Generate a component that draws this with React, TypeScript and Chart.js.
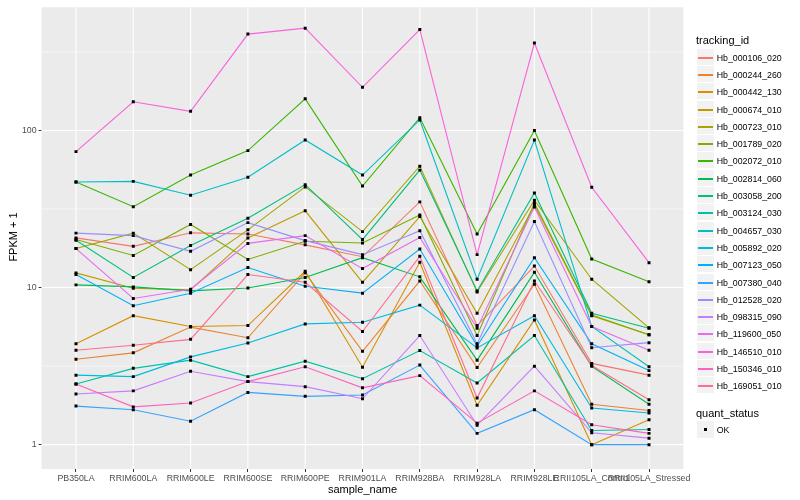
import React, { useEffect, useRef } from "react";
import { Chart, registerables } from "chart.js";

Chart.register(...registerables);

const categories = [
  "PB350LA", "RRIM600LA", "RRIM600LE", "RRIM600SE", "RRIM600PE", "RRIM901LA",
  "RRIM928BA", "RRIM928LA", "RRIM928LE", "RRII105LA_Control", "RRII105LA_Stressed",
];

const trackingIds = [
  "Hb_000106_020", "Hb_000244_260", "Hb_000442_130", "Hb_000674_010", "Hb_000723_010",
  "Hb_001789_020", "Hb_002072_010", "Hb_002814_060", "Hb_003058_200", "Hb_003124_030",
  "Hb_004657_030", "Hb_005892_020", "Hb_007123_050", "Hb_007380_040", "Hb_012528_020",
  "Hb_098315_090", "Hb_119600_050", "Hb_146510_010", "Hb_150346_010", "Hb_169051_010",
];

const seriesColors = [
  "#F8766D", "#EA8331", "#D89000", "#C09B00", "#A3A500", "#7CAE00", "#39B600", "#00BB4E",
  "#00BF7D", "#00C1A3", "#00BFC4", "#00BAE0", "#00B0F6", "#35A2FF", "#9590FF", "#C77CFF",
  "#E76BF3", "#FA62DB", "#FF62BC", "#FF6C90",
];

const hb000106 = [20.7, 18.3, 22.3, 21.9, 18.7, 15.7, 35.1, 5.73, 13.7, 3.29, 2.77];
const hb000244 = [3.5, 3.84, 5.6, 4.79, 12.4, 3.93, 11.0, 3.1, 10.5, 1.81, 1.65];
const hb000442 = [4.39, 6.62, 5.65, 5.73, 12.7, 3.11, 14.5, 1.78, 6.22, 1.0, 1.44];
const hb000674 = [12.4, 9.9, 9.66, 20.7, 30.8, 10.8, 28.3, 6.86, 33.5, 6.62, 5.0];
const hb000723 = [17.7, 22.2, 13.0, 23.3, 43.7, 22.7, 59.2, 9.38, 36.0, 11.3, 5.54];
const hb001789 = [20.2, 16.0, 25.2, 15.1, 19.7, 19.2, 29.0, 4.95, 34.5, 6.69, 5.0];
const hb002072 = [47.0, 32.7, 52.0, 74.4, 158.9, 44.3, 120.6, 21.9, 99.9, 15.2, 10.9];
const hb002814 = [10.4, 10.1, 9.52, 9.94, 11.6, 15.5, 11.7, 3.45, 12.5, 3.15, 1.81];
const hb003058 = [20.0, 11.6, 18.5, 27.6, 45.2, 20.2, 55.9, 9.52, 40.0, 6.86, 5.51];
const hb003124 = [2.43, 3.06, 3.45, 2.71, 3.4, 2.63, 3.97, 2.47, 4.95, 1.23, 1.25];
const hb004657 = [47.0, 47.4, 38.7, 50.3, 86.9, 52.0, 116.6, 11.3, 86.9, 5.65, 3.13];
const hb005892 = [2.77, 2.71, 3.62, 4.44, 5.87, 6.02, 7.73, 4.13, 6.62, 1.71, 1.59];
const hb007123 = [12.1, 7.66, 9.21, 13.4, 10.2, 9.21, 17.6, 4.25, 15.5, 4.39, 2.96];
const hb007380 = [1.76, 1.67, 1.41, 2.15, 2.03, 2.07, 3.21, 1.18, 1.67, 1.0, 1.0];
const hb012528 = [22.2, 21.4, 17.0, 25.9, 19.9, 16.2, 23.0, 4.39, 26.3, 4.14, 4.46];
const hb098315 = [2.1, 2.2, 2.93, 2.52, 2.34, 1.96, 4.95, 1.33, 3.16, 1.19, 1.1];
const hb119600 = [17.7, 8.52, 9.76, 19.1, 21.4, 13.2, 20.8, 5.51, 32.5, 5.65, 3.99];
const hb146510 = [73.3, 152.1, 132.3, 410.4, 447.7, 188.2, 438.7, 16.2, 360.0, 43.5, 14.4];
const hb150346 = [2.43, 1.74, 1.84, 2.52, 3.13, 2.3, 2.75, 1.37, 2.2, 1.34, 1.18];
const hb169051 = [3.99, 4.29, 4.68, 12.1, 10.8, 5.25, 15.8, 1.98, 11.0, 3.19, 1.93];

const seriesValues = [
  hb000106, hb000244, hb000442, hb000674, hb000723, hb001789, hb002072, hb002814,
  hb003058, hb003124, hb004657, hb005892, hb007123, hb007380, hb012528, hb098315,
  hb119600, hb146510, hb150346, hb169051,
];

const yBreaks = [1, 10, 100];
const yMinorBreaks = [3.1623, 31.623, 316.23];
const yLimits = [0.727, 608];
const xLimits = [-0.6, 10.6];

const FONT = "'Liberation Sans', Arial, Helvetica, sans-serif";

const panelPlugin = {
  id: "ggpanel",
  beforeDatasetsDraw(chart: any) {
    const { ctx, chartArea: a, scales } = chart;
    ctx.save();
    ctx.fillStyle = "#EBEBEB";
    ctx.fillRect(a.left, a.top, a.right - a.left, a.bottom - a.top);
    ctx.strokeStyle = "#FFFFFF";
    ctx.lineWidth = 0.55;
    yMinorBreaks.forEach((v) => {
      const y = scales.y.getPixelForValue(v);
      ctx.beginPath();
      ctx.moveTo(a.left, y);
      ctx.lineTo(a.right, y);
      ctx.stroke();
    });
    ctx.lineWidth = 1.1;
    yBreaks.forEach((v) => {
      const y = scales.y.getPixelForValue(v);
      ctx.beginPath();
      ctx.moveTo(a.left, y);
      ctx.lineTo(a.right, y);
      ctx.stroke();
    });
    categories.forEach((_, i) => {
      const x = scales.x.getPixelForValue(i);
      ctx.beginPath();
      ctx.moveTo(x, a.top);
      ctx.lineTo(x, a.bottom);
      ctx.stroke();
    });
    ctx.restore();
  },
};

function ChartView() {
  const ref = useRef<HTMLCanvasElement | null>(null);
  useEffect(() => {
    if (!ref.current) return;
    const lineSets = seriesValues.map((vals, s) => ({
      type: "line" as const,
      label: trackingIds[s],
      data: vals.map((v, i) => ({ x: i, y: v })),
      borderColor: seriesColors[s],
      backgroundColor: seriesColors[s],
      borderWidth: 1.1,
      pointRadius: 0,
      fill: false,
      tension: 0,
      order: 100 - s,
    }));
    const pointSet = {
      type: "scatter" as const,
      label: "OK",
      data: seriesValues.flatMap((vals) => vals.map((v, i) => ({ x: i, y: v }))),
      pointStyle: "rect",
      pointRadius: 2.1,
      pointBorderWidth: 0,
      backgroundColor: "#000000",
      borderColor: "#000000",
      showLine: false,
      order: -1,
    };
    const tickFont = { family: FONT, size: 8.8 };
    const chart = new Chart(ref.current, {
      type: "line",
      data: { datasets: [...lineSets, pointSet] as any },
      plugins: [panelPlugin],
      options: {
        animation: false,
        responsive: false,
        devicePixelRatio: 1,
        layout: { padding: { top: 5.2, right: 116.6, bottom: 0, left: 0 } },
        plugins: { legend: { display: false }, tooltip: { enabled: false } },
        scales: {
          x: {
            type: "linear",
            min: xLimits[0],
            max: xLimits[1],
            afterBuildTicks: (scale: any) => {
              scale.ticks = categories.map((_, i) => ({ value: i }));
            },
            afterFit: (scale: any) => {
              scale.height = 31;
            },
            ticks: {
              autoSkip: false,
              maxRotation: 0,
              minRotation: 0,
              color: "#4D4D4D",
              font: tickFont,
              padding: 1,
              callback: (v: any) => categories[Math.round(Number(v))] ?? "",
            },
            grid: {
              drawOnChartArea: false,
              drawTicks: true,
              tickLength: 3,
              tickColor: "#333333",
              tickWidth: 1,
            },
            border: { display: false },
          },
          y: {
            type: "logarithmic",
            min: yLimits[0],
            max: yLimits[1],
            afterBuildTicks: (scale: any) => {
              scale.ticks = yBreaks.map((v) => ({ value: v }));
            },
            afterFit: (scale: any) => {
              scale.width = 41.6;
            },
            ticks: {
              color: "#4D4D4D",
              font: tickFont,
              padding: 2,
              callback: (v: any) => String(v),
            },
            grid: {
              drawOnChartArea: false,
              drawTicks: true,
              tickLength: 3,
              tickColor: "#333333",
              tickWidth: 1,
            },
            border: { display: false },
          },
        },
      } as any,
    });
    return () => chart.destroy();
  }, []);
  return (
    <canvas
      ref={ref}
      width={800}
      height={500}
      style={{ position: "absolute", left: 0, top: 0, width: 800, height: 500 }}
    />
  );
}

const KEY = 17.3;

export default function App() {
  return (
    <div
      style={{
        position: "fixed",
        left: 0,
        top: 0,
        width: 800,
        height: 500,
        background: "#FFFFFF",
        fontFamily: FONT,
        overflow: "hidden",
      }}
    >
      <ChartView />
      <div
        style={{
          position: "absolute",
          left: 13 - 50,
          top: 237 - 7,
          width: 100,
          height: 14,
          lineHeight: "14px",
          textAlign: "center",
          fontSize: 11,
          color: "#000",
          transform: "rotate(-90deg)",
          whiteSpace: "nowrap",
        }}
      >
        FPKM + 1
      </div>
      <div
        style={{
          position: "absolute",
          left: 362.5 - 100,
          top: 489 - 7,
          width: 200,
          height: 14,
          lineHeight: "14px",
          textAlign: "center",
          fontSize: 11,
          color: "#000",
        }}
      >
        sample_name
      </div>
      <div
        style={{
          position: "absolute",
          left: 696,
          top: 40 - 7,
          height: 14,
          lineHeight: "14px",
          fontSize: 11,
          color: "#000",
        }}
      >
        tracking_id
      </div>
      {trackingIds.map((id, s) => {
        const cy = 57.3 + s * KEY;
        const top = Math.round(cy - KEY / 2);
        return (
          <div key={id}>
            <div
              style={{
                position: "absolute",
                left: 697,
                top,
                width: 17,
                height: 17,
                boxSizing: "border-box",
                background: "#F2F2F2",
                borderBottom: "1px solid #FFFFFF",
              }}
            />
            <div
              style={{
                position: "absolute",
                left: 698,
                top: top + 8,
                width: 15,
                height: 2,
                background: seriesColors[s],
              }}
            />
            <div
              style={{
                position: "absolute",
                left: 716.7,
                top: top + 2,
                height: 14,
                lineHeight: "14px",
                fontSize: 8.8,
                color: "#000",
                whiteSpace: "nowrap",
              }}
            >
              {id}
            </div>
          </div>
        );
      })}
      <div
        style={{
          position: "absolute",
          left: 696,
          top: 412.7 - 7,
          height: 14,
          lineHeight: "14px",
          fontSize: 11,
          color: "#000",
        }}
      >
        quant_status
      </div>
      <div
        style={{
          position: "absolute",
          left: 697,
          top: 421,
          width: 17,
          height: 17,
          background: "#F2F2F2",
        }}
      />
      <div
        style={{
          position: "absolute",
          left: 704,
          top: 428,
          width: 3,
          height: 3,
          background: "#000",
        }}
      />
      <div
        style={{
          position: "absolute",
          left: 716.7,
          top: 423,
          height: 14,
          lineHeight: "14px",
          fontSize: 8.8,
          color: "#000",
        }}
      >
        OK
      </div>
    </div>
  );
}
